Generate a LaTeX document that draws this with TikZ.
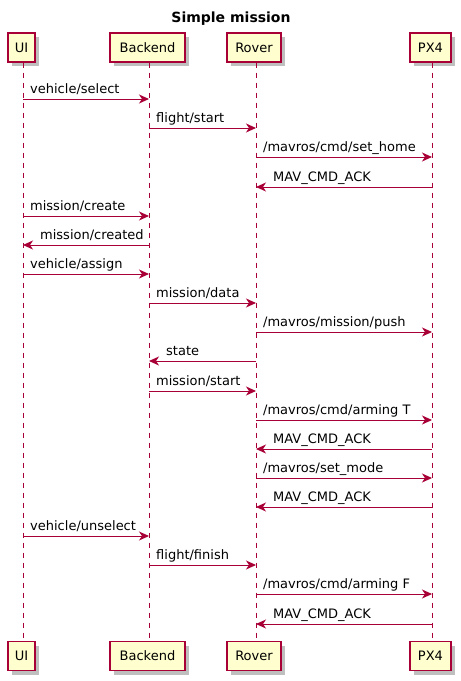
\documentclass[tikz,border=0pt]{standalone}
\usepackage{fontspec}
\setmainfont{DejaVu Sans}
\usetikzlibrary{arrows.meta,shadows}
\definecolor{pborder}{HTML}{A80036}
\definecolor{pfill}{HTML}{FEFECE}
\def\xUI{23}\def\xBE{149}\def\xRO{256}\def\xPX{432}
\newcommand\msgr[5]{% from-x, to-x, y, label, id
  \coordinate (s#5) at (#1,#3);
  \coordinate (t#5) at (#2,#3);
  \draw[msg] (s#5) -- (t#5);
  \node[lbl] (l#5) at (#1+7,#3-6) {#4};}
\newcommand\msgl[5]{% from-x, to-x, y, label, id
  \coordinate (s#5) at (#1,#3);
  \coordinate (t#5) at (#2,#3);
  \draw[msg] (s#5) -- (t#5);
  \node[lbl] (l#5) at (#2+17,#3-6) {#4};}
\begin{document}
\begin{tikzpicture}[x=1pt,y=-1pt,
  part/.style={draw=pborder, fill=pfill, line width=1.1pt, minimum height=29pt,
    inner xsep=0pt, inner ysep=0pt, font=\fontsize{13}{15}\selectfont,
    drop shadow={shadow xshift=4pt, shadow yshift=-4pt, opacity=0.25, fill=black}},
  life/.style={draw=pborder, line width=0.9pt, dash pattern=on 5pt off 5pt},
  msg/.style={draw=pborder, line width=1pt, -{Stealth[length=10pt,width=9pt,inset=3pt]}},
  lbl/.style={anchor=base west, inner sep=0pt, font=\fontsize{13}{15}\selectfont}]
\useasboundingbox (0,0) rectangle (461,681);
\node[font=\bfseries\fontsize{14}{16}\selectfont, anchor=base] (title) at (231,22) {Simple mission};
% participants
\node[part, minimum width=27pt] (uiT) at (21.5,47.5) {UI};
\node[part, minimum width=75pt] (beT) at (147.5,47.5) {Backend};
\node[part, minimum width=54pt] (roT) at (254,47.5) {Rover};
\node[part, minimum width=41pt] (pxT) at (430.5,47.5) {PX4};
\node[part, minimum width=27pt] (uiB) at (21.5,656) {UI};
\node[part, minimum width=75pt] (beB) at (147.5,656) {Backend};
\node[part, minimum width=54pt] (roB) at (254,656) {Rover};
\node[part, minimum width=41pt] (pxB) at (430.5,656) {PX4};
\coordinate (uiL1) at (\xUI,62.5); \coordinate (uiL2) at (\xUI,641.5);
\coordinate (beL1) at (\xBE,62.5); \coordinate (beL2) at (\xBE,641.5);
\coordinate (roL1) at (\xRO,62.5); \coordinate (roL2) at (\xRO,641.5);
\coordinate (pxL1) at (\xPX,62.5); \coordinate (pxL2) at (\xPX,641.5);
\draw[life] (uiL1) -- (uiL2);
\draw[life] (beL1) -- (beL2);
\draw[life] (roL1) -- (roL2);
\draw[life] (pxL1) -- (pxL2);
% messages
\msgr{\xUI}{\xBE}{99}{vehicle/select}{1}
\msgr{\xBE}{\xRO}{128}{flight/start}{2}
\msgr{\xRO}{\xPX}{157}{/mavros/cmd/set\_home}{3}
\msgl{\xPX}{\xRO}{187}{MAV\_CMD\_ACK}{4}
\msgr{\xUI}{\xBE}{216}{mission/create}{5}
\msgl{\xBE}{\xUI}{245}{mission/created}{6}
\msgr{\xUI}{\xBE}{274}{vehicle/assign}{7}
\msgr{\xBE}{\xRO}{303}{mission/data}{8}
\msgr{\xRO}{\xPX}{332}{/mavros/mission/push}{9}
\msgl{\xRO}{\xBE}{361}{state}{10}
\msgr{\xBE}{\xRO}{391}{mission/start}{11}
\msgr{\xRO}{\xPX}{420}{/mavros/cmd/arming T}{12}
\msgl{\xPX}{\xRO}{449}{MAV\_CMD\_ACK}{13}
\msgr{\xRO}{\xPX}{478}{/mavros/set\_mode}{14}
\msgl{\xPX}{\xRO}{507}{MAV\_CMD\_ACK}{15}
\msgr{\xUI}{\xBE}{536}{vehicle/unselect}{16}
\msgr{\xBE}{\xRO}{565}{flight/finish}{17}
\msgr{\xRO}{\xPX}{594}{/mavros/cmd/arming F}{18}
\msgl{\xPX}{\xRO}{624}{MAV\_CMD\_ACK}{19}
\end{tikzpicture}
\end{document}
